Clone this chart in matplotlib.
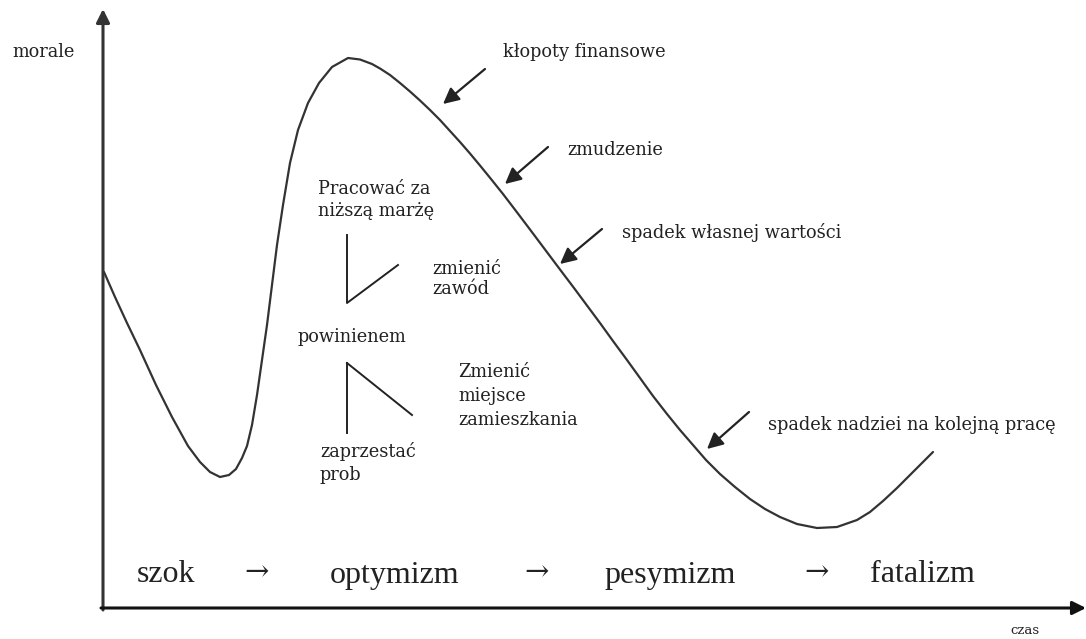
import numpy as np
import matplotlib
matplotlib.use('Agg')
import matplotlib.pyplot as plt

# morale curve in pixel units (y grows downwards)
curve_x = [104, 115, 127, 140, 156, 172, 188, 200, 210, 220, 229, 236, 242,
           247, 252, 257, 262, 267, 272, 277, 283, 290, 298, 308, 319, 332,
           348, 360, 372, 380, 390, 400, 410, 420, 430, 440, 450, 460, 470,
           480, 491, 503, 516, 530, 545, 560, 574, 587, 600, 613, 627, 640,
           653, 667, 680, 693, 706, 720, 735, 750, 765, 780, 797, 817, 837,
           857, 870, 883, 897, 910, 922, 933]
curve_y = [272, 297, 323, 350, 385, 417, 446, 462, 472, 477, 475, 469, 458,
           446, 425, 395, 360, 325, 285, 245, 205, 163, 130, 103, 83, 67,
           58, 59.5, 64, 68.5, 75, 83, 91.5, 100.5, 110, 120, 131, 142, 153.5,
           165.5, 179, 194, 211, 229.5, 249.5, 269.5, 288, 305.5, 323, 341, 360, 378,
           396, 414, 430, 445, 460, 474, 487, 499, 509, 517, 524, 528, 527,
           520, 512, 501, 488, 475, 463, 452]

# comments pointing at the falling part of the curve
note_labels = ['kłopoty finansowe', 'zmudzenie', 'spadek własnej wartości',
               'spadek nadziei na kolejną pracę']
note_text_xy = [(503, 52), (567, 150), (622, 232), (768, 425)]
note_tail_xy = [(485, 69), (548, 147), (602, 229), (749, 412)]
note_head_xy = [(443, 104), (505, 184), (560, 264), (707, 449)]

# "what should I do" block
choice_labels = ['Pracować za\nniższą marżę', 'zmienić\nzawód', 'powinienem',
                 'Zmienić\nmiejsce\nzamieszkania', 'zaprzestać\nprob']
choice_xy = [(318, 200), (432, 279), (298, 337), (458, 396), (320, 463)]
choice_spacing = [1.3, 1.15, 1.2, 1.4, 1.3]
fork_top_x = [347, 347, 398]
fork_top_y = [235, 303, 265]
fork_bot_x = [347, 347, 412]
fork_bot_y = [433, 363, 415]

# phases along the time axis
phases = ['szok', 'optymizm', 'pesymizm', 'fatalizm']
phase_x = [137, 330, 604, 870]
arrow_x = [244, 524, 804]

fig = plt.figure(figsize=(10.86, 6.39), dpi=100)
ax = fig.add_axes([0, 0, 1, 1])
ax.set_xlim(0, 1086)
ax.set_ylim(639, 0)
ax.axis('off')

ink = '#222222'
small = dict(family='DejaVu Serif', fontsize=12.8, color=ink)

# axes with arrow heads
ax.annotate('', xy=(103, 9), xytext=(103, 610), annotation_clip=False,
            arrowprops=dict(arrowstyle='-|>', color='#333333', lw=2.2,
                            mutation_scale=20, shrinkA=0, shrinkB=0))
ax.annotate('', xy=(1086, 608), xytext=(101, 608), annotation_clip=False,
            arrowprops=dict(arrowstyle='-|>', color='#111111', lw=2.2,
                            mutation_scale=20, shrinkA=0, shrinkB=0))
ax.text(12, 52, 'morale', va='center', ha='left', **small)
ax.text(1010, 630, 'czas', va='center', ha='left',
        family='DejaVu Serif', fontsize=9.5, color=ink)

ax.plot(curve_x, curve_y, color='#333333', lw=1.6,
        solid_joinstyle='round', solid_capstyle='round')

for lab, txy, tail, head in zip(note_labels, note_text_xy, note_tail_xy, note_head_xy):
    ax.text(txy[0], txy[1], lab, va='center', ha='left', **small)
    ax.annotate('', xy=head, xytext=tail,
                arrowprops=dict(arrowstyle='-|>', color=ink, lw=1.6,
                                mutation_scale=24, shrinkA=0, shrinkB=0))

for lab, xy, sp in zip(choice_labels, choice_xy, choice_spacing):
    ax.text(xy[0], xy[1], lab, va='center', ha='left', linespacing=sp, **small)
ax.plot(fork_top_x, fork_top_y, color=ink, lw=1.4)
ax.plot(fork_bot_x[:2], fork_bot_y[:2], color=ink, lw=1.4)
ax.plot([fork_bot_x[1], fork_bot_x[2]], [fork_bot_y[1], fork_bot_y[2]], color=ink, lw=1.4)

for lab, x in zip(phases, phase_x):
    ax.text(x, 575, lab, va='center', ha='left',
            family='Liberation Serif', fontsize=23, color=ink)
for x in arrow_x:
    ax.text(x, 572, '→', va='center', ha='left',
            family='DejaVu Serif', fontsize=21, color=ink)

plt.savefig('out.png', dpi=100)
